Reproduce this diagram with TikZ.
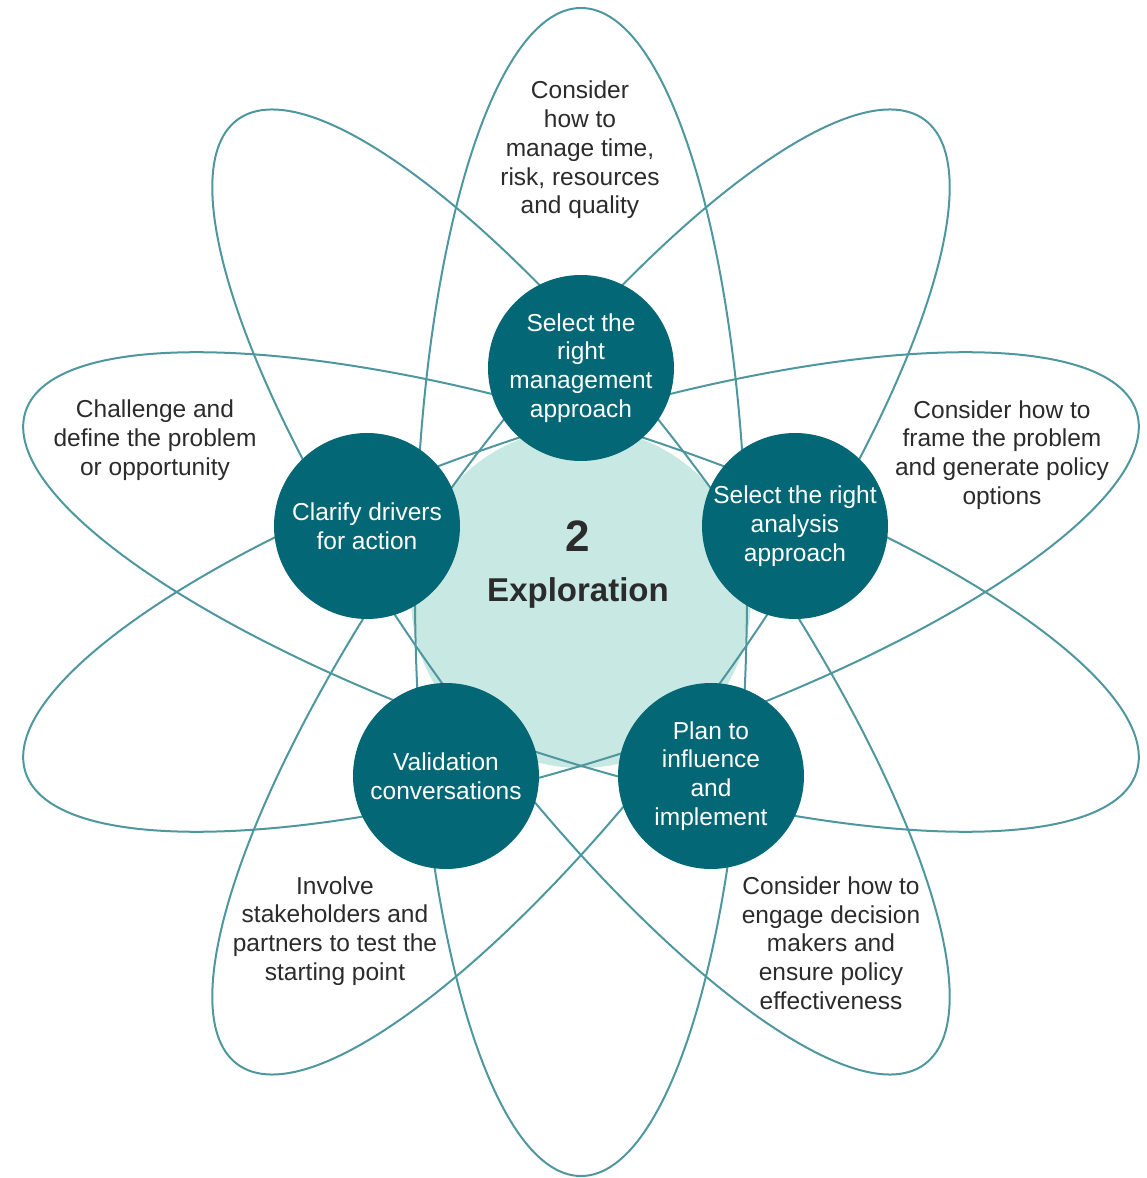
\documentclass[tikz,border=0pt]{standalone}
\usepackage{fontspec}
\setmainfont{Liberation Sans}
\usepackage{tikz}
\pgfdeclarelayer{edgelayer}
\pgfdeclarelayer{nodelayer}
\pgfsetlayers{edgelayer,nodelayer,main}
\definecolor{deepteal}{HTML}{046775}
\definecolor{orbitteal}{HTML}{4E979E}
\definecolor{paleteal}{HTML}{C7E8E3}
\definecolor{notegrey}{HTML}{2B2B2B}
\tikzstyle{stage}=[circle,fill=deepteal,text=white,minimum size=186pt,inner sep=0pt,align=center,font=\fontsize{24.5}{28.7}\selectfont]
\tikzstyle{note}=[align=center,text=notegrey,font=\fontsize{24.5}{28.7}\selectfont]
\tikzstyle{orbit}=[draw=orbitteal,line width=2pt]

\begin{document}
\begin{tikzpicture}[x=1pt,y=1pt]
	\useasboundingbox (-581,-586) rectangle (565,592);
	\begin{pgfonlayer}{edgelayer}
		\fill [paleteal] (0,-6) circle (170);
		\foreach \a in {90,54,18,-18,-54}
			\draw [style=orbit, rotate=\a] (0,0) ellipse (584 and 166);
	\end{pgfonlayer}
	\begin{pgfonlayer}{nodelayer}
		\node [style=stage] (0) at (0, 224) {Select the\\right\\management\\approach};
		\node [style=stage] (1) at (-214, 66) {Clarify drivers\\for action};
		\node [style=stage] (2) at (214, 66) {Select the right\\analysis\\approach};
		\node [style=stage] (3) at (-135, -184) {Validation\\conversations};
		\node [style=stage] (4) at (130, -184) {Plan to\\influence\\and\\implement};
	\end{pgfonlayer}
	\node [text=notegrey, font=\fontsize{44}{50}\selectfont\bfseries] (5) at (-3,56) {2};
	\node [text=notegrey, font=\fontsize{33}{38}\selectfont\bfseries] (6) at (-3,-1) {Exploration};
	\node [style=note] (7) at (-1,442) {Consider\\how to\\manage time,\\risk, resources\\and quality};
	\node [style=note] (8) at (-426,152) {Challenge and\\define the problem\\or opportunity};
	\node [style=note] (9) at (421,137) {Consider how to\\frame the problem\\and generate policy\\options};
	\node [style=note] (10) at (-246,-339) {Involve\\stakeholders and\\partners to test the\\starting point};
	\node [style=note] (11) at (250,-351) {Consider how to\\engage decision\\makers and\\ensure policy\\effectiveness};
\end{tikzpicture}
\end{document}
